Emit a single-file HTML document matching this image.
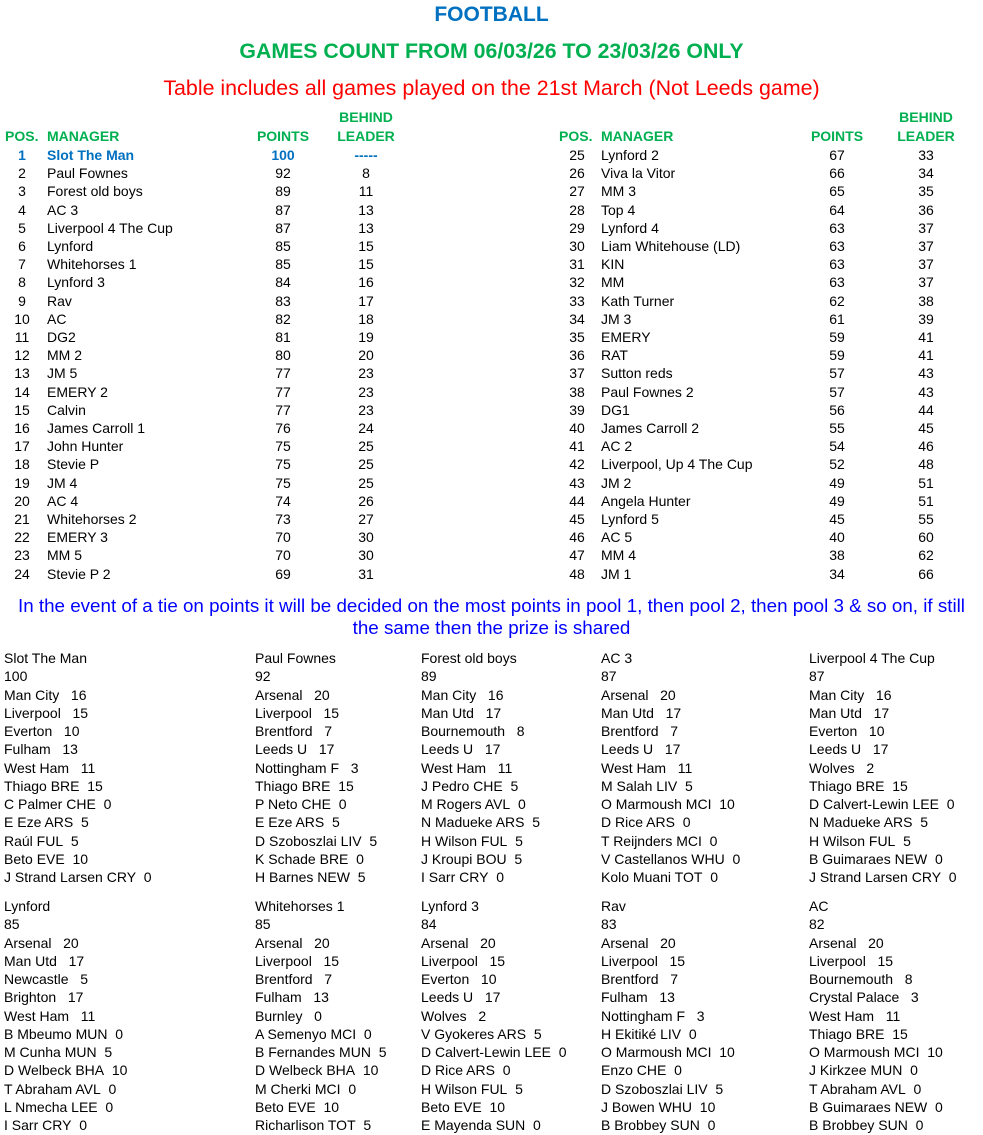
<!DOCTYPE html>
<html><head><meta charset="utf-8"><style>
body{margin:0;width:983px;height:1135px;background:#fff;font-family:"Liberation Sans",Arial,sans-serif;position:relative;overflow:hidden;color:#000}
.a{position:absolute;white-space:nowrap}
.t{font-size:14px;line-height:18.2px}
.c{text-align:center}
.g{color:#00b050;font-weight:bold;font-size:14px;line-height:19px}
.b{position:absolute;white-space:nowrap;font-size:14px;line-height:18.25px}
.bl{color:#0070c0;font-weight:bold}
</style></head><body>
<div class="a c" style="left:0;width:983px;top:2px;font-size:21px;font-weight:bold;color:#0070c0;line-height:26px">FOOTBALL</div>
<div class="a c" style="left:0;width:983px;top:38px;font-size:21.3px;font-weight:bold;color:#00b050;line-height:26px">GAMES COUNT FROM 06/03/26 TO 23/03/26 ONLY</div>
<div class="a c" style="left:0;width:983px;top:75px;font-size:21.4px;color:#ff0000;line-height:26px">Table includes all games played on the 21st March (Not Leeds game)</div>

<div class="a g" style="left:5px;top:127px">POS.</div>
<div class="a g" style="left:47px;top:127px">MANAGER</div>
<div class="a g c" style="left:243px;width:80px;top:127px">POINTS</div>
<div class="a g c" style="left:326px;width:80px;top:108px">BEHIND<br>LEADER</div>
<div class="a g" style="left:559px;top:127px">POS.</div>
<div class="a g" style="left:601px;top:127px">MANAGER</div>
<div class="a g c" style="left:797px;width:80px;top:127px">POINTS</div>
<div class="a g c" style="left:886px;width:80px;top:108px">BEHIND<br>LEADER</div>

<div class="a t c" style="left:2px;width:40px;top:146px"><span class="bl">1</span><br>2<br>3<br>4<br>5<br>6<br>7<br>8<br>9<br>10<br>11<br>12<br>13<br>14<br>15<br>16<br>17<br>18<br>19<br>20<br>21<br>22<br>23<br>24</div>
<div class="a t" style="left:47px;top:146px"><span class="bl">Slot The Man</span><br>Paul Fownes<br>Forest old boys<br>AC 3<br>Liverpool 4 The Cup<br>Lynford<br>Whitehorses 1<br>Lynford 3<br>Rav<br>AC<br>DG2<br>MM 2<br>JM 5<br>EMERY 2<br>Calvin<br>James Carroll 1<br>John Hunter<br>Stevie P<br>JM 4<br>AC 4<br>Whitehorses 2<br>EMERY 3<br>MM 5<br>Stevie P 2</div>
<div class="a t c" style="left:243px;width:80px;top:146px"><span class="bl">100</span><br>92<br>89<br>87<br>87<br>85<br>85<br>84<br>83<br>82<br>81<br>80<br>77<br>77<br>77<br>76<br>75<br>75<br>75<br>74<br>73<br>70<br>70<br>69</div>
<div class="a t c" style="left:326px;width:80px;top:146px"><span class="bl">-----</span><br>8<br>11<br>13<br>13<br>15<br>15<br>16<br>17<br>18<br>19<br>20<br>23<br>23<br>23<br>24<br>25<br>25<br>25<br>26<br>27<br>30<br>30<br>31</div>

<div class="a t c" style="left:557px;width:40px;top:146px">25<br>26<br>27<br>28<br>29<br>30<br>31<br>32<br>33<br>34<br>35<br>36<br>37<br>38<br>39<br>40<br>41<br>42<br>43<br>44<br>45<br>46<br>47<br>48</div>
<div class="a t" style="left:601px;top:146px">Lynford 2<br>Viva la Vitor<br>MM 3<br>Top 4<br>Lynford 4<br>Liam Whitehouse (LD)<br>KIN<br>MM<br>Kath Turner<br>JM 3<br>EMERY<br>RAT<br>Sutton reds<br>Paul Fownes 2<br>DG1<br>James Carroll 2<br>AC 2<br>Liverpool, Up 4 The Cup<br>JM 2<br>Angela Hunter<br>Lynford 5<br>AC 5<br>MM 4<br>JM 1</div>
<div class="a t c" style="left:797px;width:80px;top:146px">67<br>66<br>65<br>64<br>63<br>63<br>63<br>63<br>62<br>61<br>59<br>59<br>57<br>57<br>56<br>55<br>54<br>52<br>49<br>49<br>45<br>40<br>38<br>34</div>
<div class="a t c" style="left:886px;width:80px;top:146px">33<br>34<br>35<br>36<br>37<br>37<br>37<br>37<br>38<br>39<br>41<br>41<br>43<br>43<br>44<br>45<br>46<br>48<br>51<br>51<br>55<br>60<br>62<br>66</div>

<div class="a c" style="left:0;width:983px;top:595px;font-size:18.8px;line-height:22px;color:#0000ff">In the event of a tie on points it will be decided on the most points in pool 1, then pool 2, then pool 3 &amp; so on, if still<br>the same then the prize is shared</div>

<div class="b" style="left:4px;top:649px">Slot The Man<br>100<br>Man City&nbsp;&nbsp;&nbsp;16<br>Liverpool&nbsp;&nbsp;&nbsp;15<br>Everton&nbsp;&nbsp;&nbsp;10<br>Fulham&nbsp;&nbsp;&nbsp;13<br>West Ham&nbsp;&nbsp;&nbsp;11<br>Thiago BRE&nbsp;&nbsp;15<br>C Palmer CHE&nbsp;&nbsp;0<br>E Eze ARS&nbsp;&nbsp;5<br>Raúl FUL&nbsp;&nbsp;5<br>Beto EVE&nbsp;&nbsp;10<br>J Strand Larsen CRY&nbsp;&nbsp;0</div>
<div class="b" style="left:255px;top:649px">Paul Fownes<br>92<br>Arsenal&nbsp;&nbsp;&nbsp;20<br>Liverpool&nbsp;&nbsp;&nbsp;15<br>Brentford&nbsp;&nbsp;&nbsp;7<br>Leeds U&nbsp;&nbsp;&nbsp;17<br>Nottingham F&nbsp;&nbsp;&nbsp;3<br>Thiago BRE&nbsp;&nbsp;15<br>P Neto CHE&nbsp;&nbsp;0<br>E Eze ARS&nbsp;&nbsp;5<br>D Szoboszlai LIV&nbsp;&nbsp;5<br>K Schade BRE&nbsp;&nbsp;0<br>H Barnes NEW&nbsp;&nbsp;5</div>
<div class="b" style="left:421px;top:649px">Forest old boys<br>89<br>Man City&nbsp;&nbsp;&nbsp;16<br>Man Utd&nbsp;&nbsp;&nbsp;17<br>Bournemouth&nbsp;&nbsp;&nbsp;8<br>Leeds U&nbsp;&nbsp;&nbsp;17<br>West Ham&nbsp;&nbsp;&nbsp;11<br>J Pedro CHE&nbsp;&nbsp;5<br>M Rogers AVL&nbsp;&nbsp;0<br>N Madueke ARS&nbsp;&nbsp;5<br>H Wilson FUL&nbsp;&nbsp;5<br>J Kroupi BOU&nbsp;&nbsp;5<br>I Sarr CRY&nbsp;&nbsp;0</div>
<div class="b" style="left:601px;top:649px">AC 3<br>87<br>Arsenal&nbsp;&nbsp;&nbsp;20<br>Man Utd&nbsp;&nbsp;&nbsp;17<br>Brentford&nbsp;&nbsp;&nbsp;7<br>Leeds U&nbsp;&nbsp;&nbsp;17<br>West Ham&nbsp;&nbsp;&nbsp;11<br>M Salah LIV&nbsp;&nbsp;5<br>O Marmoush MCI&nbsp;&nbsp;10<br>D Rice ARS&nbsp;&nbsp;0<br>T Reijnders MCI&nbsp;&nbsp;0<br>V Castellanos WHU&nbsp;&nbsp;0<br>Kolo Muani TOT&nbsp;&nbsp;0</div>
<div class="b" style="left:809px;top:649px">Liverpool 4 The Cup<br>87<br>Man City&nbsp;&nbsp;&nbsp;16<br>Man Utd&nbsp;&nbsp;&nbsp;17<br>Everton&nbsp;&nbsp;&nbsp;10<br>Leeds U&nbsp;&nbsp;&nbsp;17<br>Wolves&nbsp;&nbsp;&nbsp;2<br>Thiago BRE&nbsp;&nbsp;15<br>D Calvert-Lewin LEE&nbsp;&nbsp;0<br>N Madueke ARS&nbsp;&nbsp;5<br>H Wilson FUL&nbsp;&nbsp;5<br>B Guimaraes NEW&nbsp;&nbsp;0<br>J Strand Larsen CRY&nbsp;&nbsp;0</div>

<div class="b" style="left:4px;top:897px">Lynford<br>85<br>Arsenal&nbsp;&nbsp;&nbsp;20<br>Man Utd&nbsp;&nbsp;&nbsp;17<br>Newcastle&nbsp;&nbsp;&nbsp;5<br>Brighton&nbsp;&nbsp;&nbsp;17<br>West Ham&nbsp;&nbsp;&nbsp;11<br>B Mbeumo MUN&nbsp;&nbsp;0<br>M Cunha MUN&nbsp;&nbsp;5<br>D Welbeck BHA&nbsp;&nbsp;10<br>T Abraham AVL&nbsp;&nbsp;0<br>L Nmecha LEE&nbsp;&nbsp;0<br>I Sarr CRY&nbsp;&nbsp;0</div>
<div class="b" style="left:255px;top:897px">Whitehorses 1<br>85<br>Arsenal&nbsp;&nbsp;&nbsp;20<br>Liverpool&nbsp;&nbsp;&nbsp;15<br>Brentford&nbsp;&nbsp;&nbsp;7<br>Fulham&nbsp;&nbsp;&nbsp;13<br>Burnley&nbsp;&nbsp;&nbsp;0<br>A Semenyo MCI&nbsp;&nbsp;0<br>B Fernandes MUN&nbsp;&nbsp;5<br>D Welbeck BHA&nbsp;&nbsp;10<br>M Cherki MCI&nbsp;&nbsp;0<br>Beto EVE&nbsp;&nbsp;10<br>Richarlison TOT&nbsp;&nbsp;5</div>
<div class="b" style="left:421px;top:897px">Lynford 3<br>84<br>Arsenal&nbsp;&nbsp;&nbsp;20<br>Liverpool&nbsp;&nbsp;&nbsp;15<br>Everton&nbsp;&nbsp;&nbsp;10<br>Leeds U&nbsp;&nbsp;&nbsp;17<br>Wolves&nbsp;&nbsp;&nbsp;2<br>V Gyokeres ARS&nbsp;&nbsp;5<br>D Calvert-Lewin LEE&nbsp;&nbsp;0<br>D Rice ARS&nbsp;&nbsp;0<br>H Wilson FUL&nbsp;&nbsp;5<br>Beto EVE&nbsp;&nbsp;10<br>E Mayenda SUN&nbsp;&nbsp;0</div>
<div class="b" style="left:601px;top:897px">Rav<br>83<br>Arsenal&nbsp;&nbsp;&nbsp;20<br>Liverpool&nbsp;&nbsp;&nbsp;15<br>Brentford&nbsp;&nbsp;&nbsp;7<br>Fulham&nbsp;&nbsp;&nbsp;13<br>Nottingham F&nbsp;&nbsp;&nbsp;3<br>H Ekitiké LIV&nbsp;&nbsp;0<br>O Marmoush MCI&nbsp;&nbsp;10<br>Enzo CHE&nbsp;&nbsp;0<br>D Szoboszlai LIV&nbsp;&nbsp;5<br>J Bowen WHU&nbsp;&nbsp;10<br>B Brobbey SUN&nbsp;&nbsp;0</div>
<div class="b" style="left:809px;top:897px">AC<br>82<br>Arsenal&nbsp;&nbsp;&nbsp;20<br>Liverpool&nbsp;&nbsp;&nbsp;15<br>Bournemouth&nbsp;&nbsp;&nbsp;8<br>Crystal Palace&nbsp;&nbsp;&nbsp;3<br>West Ham&nbsp;&nbsp;&nbsp;11<br>Thiago BRE&nbsp;&nbsp;15<br>O Marmoush MCI&nbsp;&nbsp;10<br>J Kirkzee MUN&nbsp;&nbsp;0<br>T Abraham AVL&nbsp;&nbsp;0<br>B Guimaraes NEW&nbsp;&nbsp;0<br>B Brobbey SUN&nbsp;&nbsp;0</div>
</body></html>
